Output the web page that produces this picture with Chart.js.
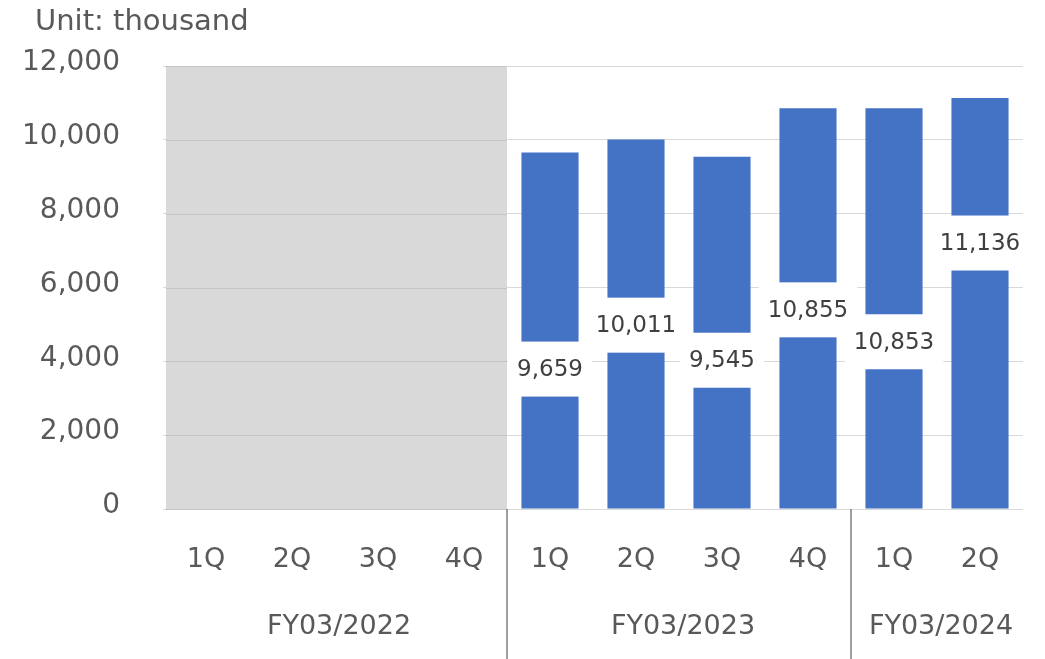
<!DOCTYPE html>
<html>
<head>
<meta charset="utf-8">
<script src="https://cdn.jsdelivr.net/npm/chart.js@4.4.1/dist/chart.umd.min.js"></script>
<style>
html,body{margin:0;padding:0;background:#fff;}
#wrap{position:relative;width:1045px;height:659px;}
</style>
</head>
<body>
<div id="wrap"><canvas id="c" width="1045" height="659"></canvas></div>
<script>
// ---- data ----
const quarters = ['1Q','2Q','3Q','4Q','1Q','2Q','3Q','4Q','1Q','2Q'];
const fiscalYears = ['FY03/2022','FY03/2023','FY03/2024'];
const quartersPerYear = [4, 4, 2];
const revenue = [null, null, null, null, 9659, 10011, 9545, 10855, 10853, 11136];
const labelAt = [null, null, null, null, 3790, 4980, 4030, 5395, 4530, 7205];
const shadedYear = 'FY03/2022';
const yTicks = [0, 2000, 4000, 6000, 8000, 10000, 12000];
const unitText = 'Unit: thousand';

const FONT = '"DejaVu Sans", Verdana, sans-serif';

function boundaryPixel(xs, i) { // left edge of category i
  const w = xs.getPixelForValue(1) - xs.getPixelForValue(0);
  return xs.getPixelForValue(i) - w / 2;
}

const decor = {
  id: 'decor',
  beforeDatasetsDraw(chart) {
    const {ctx} = chart;
    const xs = chart.scales.x, ys = chart.scales.y;
    let start = 0;
    for (let g = 0; g < fiscalYears.length; g++) {
      if (fiscalYears[g] === shadedYear) {
        const x0 = boundaryPixel(xs, start) + 3;
        const x1 = boundaryPixel(xs, start + quartersPerYear[g]);
        const yTop = ys.getPixelForValue(yTicks[yTicks.length - 1]);
        const yBot = ys.getPixelForValue(0);
        ctx.save();
        ctx.fillStyle = '#D9D9D9';
        ctx.fillRect(x0, yTop, x1 - x0, yBot - yTop);
        ctx.strokeStyle = '#C4C4C4';
        ctx.lineWidth = 1;
        yTicks.forEach(v => {
          const y = Math.round(ys.getPixelForValue(v)) + 0.5;
          ctx.beginPath(); ctx.moveTo(x0, y); ctx.lineTo(x1, y); ctx.stroke();
        });
        ctx.restore();
      }
      start += quartersPerYear[g];
    }
  },
  afterDatasetsDraw(chart) {
    const {ctx} = chart;
    const xs = chart.scales.x, ys = chart.scales.y;
    ctx.save();
    ctx.font = '23px ' + FONT;
    ctx.textAlign = 'center';
    ctx.textBaseline = 'middle';
    revenue.forEach((v, i) => {
      if (v == null) return;
      const txt = v.toLocaleString('en-US');
      const cx = xs.getPixelForValue(i);
      const cy = ys.getPixelForValue(labelAt[i]);
      const w = ctx.measureText(txt).width + 18;
      const h = 55;
      ctx.fillStyle = '#FFFFFF';
      ctx.fillRect(cx - w / 2, cy - h / 2, w, h);
      ctx.fillStyle = '#404040';
      ctx.fillText(txt, cx, cy + 1);
    });
    ctx.restore();
  },
  afterDraw(chart) {
    const {ctx} = chart;
    const xs = chart.scales.x, ys = chart.scales.y;
    const yAxis = ys.getPixelForValue(0);
    ctx.save();
    ctx.strokeStyle = '#7F7F7F';
    ctx.lineWidth = 1.5;
    ctx.font = '27px ' + FONT;
    ctx.fillStyle = '#595959';
    ctx.textAlign = 'center';
    ctx.textBaseline = 'middle';
    let start = 0;
    for (let g = 0; g < fiscalYears.length; g++) {
      const x0 = boundaryPixel(xs, start);
      const x1 = boundaryPixel(xs, start + quartersPerYear[g]);
      if (g > 0) {
        ctx.beginPath(); ctx.moveTo(Math.round(x0), yAxis); ctx.lineTo(Math.round(x0), chart.height); ctx.stroke();
      }
      ctx.fillText(fiscalYears[g], (x0 + x1) / 2 + 4, yAxis + 118);
      start += quartersPerYear[g];
    }
    ctx.textAlign = 'left';
    ctx.font = '29px ' + FONT;
    ctx.fillText(unitText, 35, 22);
    ctx.restore();
  }
};

new Chart(document.getElementById('c'), {
  type: 'bar',
  data: {
    labels: quarters,
    datasets: [{
      data: revenue,
      backgroundColor: '#4472C4',
      borderWidth: 0,
      barPercentage: 0.664,
      categoryPercentage: 1.0
    }]
  },
  options: {
    responsive: false,
    animation: false,
    events: [],
    layout: { padding: { top: 66, right: 22, left: 0, bottom: 0 } },
    plugins: { legend: { display: false }, tooltip: { enabled: false } },
    scales: {
      x: {
        grid: { display: false, drawTicks: false },
        border: { display: false },
        ticks: { color: '#595959', font: { family: FONT, size: 27 }, padding: 35, maxRotation: 0, autoSkip: false },
        afterFit(s) { s.height = 150; }
      },
      y: {
        min: 0, max: 12000,
        afterBuildTicks(s) { s.ticks = yTicks.map(v => ({ value: v })); },
        grid: { color: '#D9D9D9', lineWidth: 1, drawTicks: false },
        border: { display: false },
        ticks: {
          color: '#595959', font: { family: FONT, size: 28 }, padding: 43, labelOffset: -3,
          callback: v => v.toLocaleString('en-US')
        },
        afterFit(s) { s.width = 163; }
      }
    }
  },
  plugins: [decor]
});
</script>
</body>
</html>
